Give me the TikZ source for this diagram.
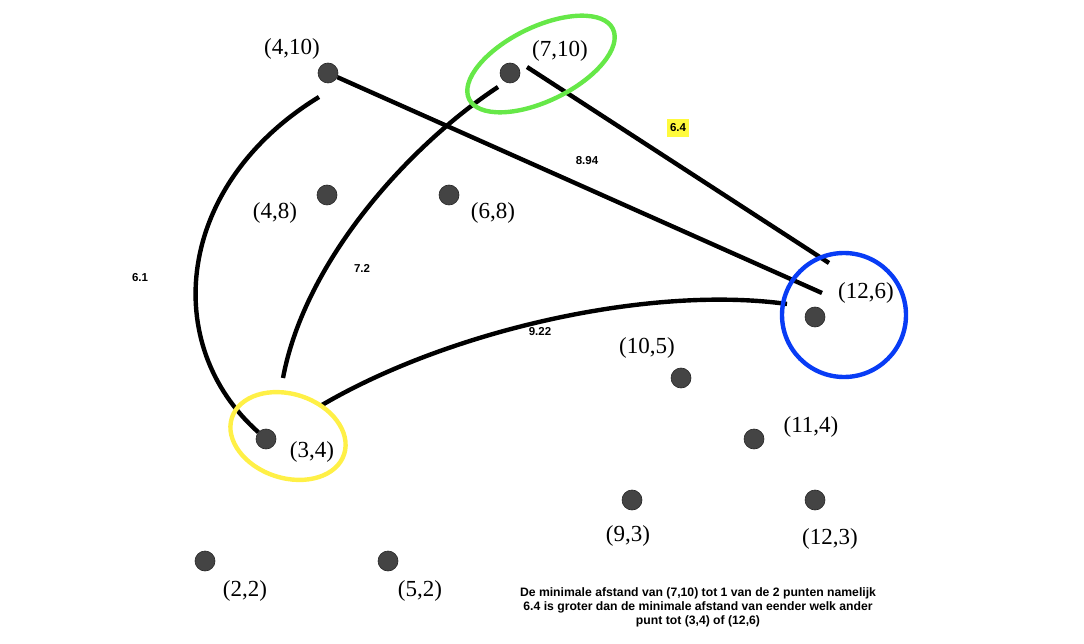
\documentclass[tikz,border=0pt]{standalone}
\usepackage{fontspec}
\setmainfont{Liberation Serif}
\setsansfont{Liberation Sans}
\usetikzlibrary{positioning}

\definecolor{ptgray}{RGB}{68,68,68}
\definecolor{hlgreen}{RGB}{102,232,72}
\definecolor{hlyellow}{RGB}{255,240,70}
\definecolor{hlblue}{RGB}{8,60,245}
\definecolor{tagyellow}{RGB}{255,250,60}

\begin{document}
\begin{tikzpicture}[x=1pt,y=-1pt,line width=4.4pt,punt/.style={circle,fill=ptgray,draw=black!85,line width=0.6pt,minimum size=20pt,inner sep=0pt},ptlabel/.style={font=\fontsize{23}{23}\selectfont,inner sep=0pt},dist/.style={font=\sffamily\bfseries\fontsize{11.5}{11.5}\selectfont,inner sep=1pt}]
		 \useasboundingbox (0,0) rectangle (1084,644);

		 \node[punt]            (p410)      at (328,73)      {};
		 \node[punt]            (p710)      at (510,73)      {};
		 \node[punt]            (p48)       at (327,195)     {};
		 \node[punt]            (p68)       at (449,195)     {};
		 \node[punt]            (p126)      at (815,317)     {};
		 \node[punt]            (p105)      at (681,378)     {};
		 \node[punt]            (p114)      at (754,439)     {};
		 \node[punt]            (p34)       at (266,439)     {};
		 \node[punt]            (p93)       at (632,500)     {};
		 \node[punt]            (p123)      at (815,500)     {};
		 \node[punt]            (p22)       at (205,561)     {};
		 \node[punt]            (p52)       at (388,561)     {};

		 \node[ptlabel]         (l410)      at (292,49)      {(4,10)};
		 \node[ptlabel]         (l710)      at (560,51)      {(7,10)};
		 \node[ptlabel]         (l48)       at (275,213)     {(4,8)};
		 \node[ptlabel]         (l68)       at (493,213)     {(6,8)};
		 \node[ptlabel]         (l126)      at (866,293)     {(12,6)};
		 \node[ptlabel]         (l105)      at (647,348)     {(10,5)};
		 \node[ptlabel]         (l114)      at (811,427)     {(11,4)};
		 \node[ptlabel]         (l34)       at (312,452)     {(3,4)};
		 \node[ptlabel]         (l93)       at (628,536)     {(9,3)};
		 \node[ptlabel]         (l123)      at (830,539)     {(12,3)};
		 \node[ptlabel]         (l22)       at (245,591)     {(2,2)};
		 \node[ptlabel]         (l52)       at (420,591)     {(5,2)};

		 \coordinate (a1) at (822,293);
		 \coordinate (b0) at (527,67);	\coordinate (b1) at (829,263);
		 \coordinate (c0) at (319,97);
		 \coordinate (d0) at (498,87);	\coordinate (d1) at (283,378);
		 \coordinate (e0) at (322,405);	\coordinate (e1) at (787,304);

		\draw	(p410)	--	(a1);
		\draw	(b0)	--	(b1);
		\draw	(c0) .. controls (175,185) and (160,345) .. (p34);
		\draw	(d0) .. controls (410,145) and (305,260) .. (d1);
		\draw	(e0) .. controls (450,330) and (650,285) .. (e1);

		 \node[dist]            (d61)       at (140,278)     {6.1};
		 \node[dist]            (d72)       at (362,268)     {7.2};
		 \node[dist]            (d894)      at (587,161)     {8.94};
		 \node[dist]            (d922)      at (540,332)     {9.22};
		 \node[dist][fill=tagyellow,minimum width=22pt,minimum height=18pt] (d64) at (678,128) {6.4};

		 \coordinate (g) at (541,64);
		 \coordinate (y) at (288,436);
		\draw	[hlgreen,rotate around={26:(g)}]	(g) ellipse [x radius=80pt,y radius=37pt];
		\draw	[hlyellow,rotate around={-18:(y)}]	(y) ellipse [x radius=59pt,y radius=42pt];
		\draw	[hlblue]	(844,315) circle [radius=62pt];

		 \node[font=\sffamily\bfseries\fontsize{12.2}{14}\selectfont,align=center] (uitleg) at (698,607) {De minimale afstand van (7,10) tot 1 van de 2 punten namelijk\\6.4 is groter dan de minimale afstand van eender welk ander\\punt tot (3,4) of (12,6)};
	\end{tikzpicture}
\end{document}
